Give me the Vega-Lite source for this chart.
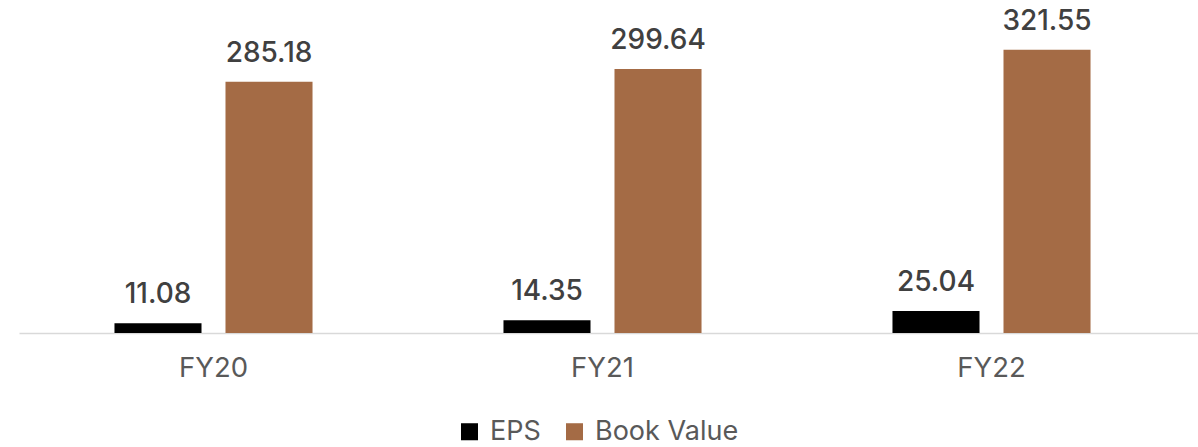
{
  "$schema": "https://vega.github.io/schema/vega-lite/v6.json",
  "width": 1179,
  "height": 333,
  "autosize": {"type": "none"},
  "padding": {"left": 19, "top": 0, "right": 0, "bottom": 114},
  "background": "#ffffff",
  "config": {"view": {"stroke": null}, "font": "Inter"},
  "data": {
    "values": [
      {"year": "FY20", "metric": "EPS", "value": 11.08},
      {"year": "FY20", "metric": "Book Value", "value": 285.18},
      {"year": "FY21", "metric": "EPS", "value": 14.35},
      {"year": "FY21", "metric": "Book Value", "value": 299.64},
      {"year": "FY22", "metric": "EPS", "value": 25.04},
      {"year": "FY22", "metric": "Book Value", "value": 321.55}
    ]
  },
  "encoding": {
    "x": {
      "field": "year",
      "type": "nominal",
      "scale": {"paddingInner": 0, "paddingOuter": 0.01542, "align": 0},
      "axis": {
        "title": null,
        "labelAngle": 0,
        "ticks": false,
        "domainColor": "#d9d9d9",
        "domainWidth": 1.5,
        "labelFontSize": 27.5,
        "labelColor": "#595959",
        "labelPadding": 21,
        "labelFont": "Inter"
      }
    },
    "xOffset": {
      "field": "metric",
      "type": "nominal",
      "sort": ["EPS", "Book Value"],
      "scale": {"paddingInner": 0.216, "paddingOuter": 0.86}
    },
    "y": {
      "field": "value",
      "type": "quantitative",
      "scale": {"domain": [0, 378], "nice": false},
      "axis": null
    }
  },
  "layer": [
    {
      "mark": {"type": "bar"},
      "encoding": {
        "color": {
          "field": "metric",
          "type": "nominal",
          "sort": ["EPS", "Book Value"],
          "scale": {"domain": ["EPS", "Book Value"], "range": ["#000000", "#A46B45"]},
          "legend": {
            "title": null,
            "orient": "none",
            "direction": "horizontal",
            "legendX": 437,
            "legendY": 418,
            "symbolType": "square",
            "symbolSize": 290,
            "symbolStrokeWidth": 0,
            "labelFontSize": 27,
            "labelColor": "#595959",
            "labelFont": "Inter",
            "columnPadding": 20,
            "labelOffset": 7
          }
        }
      }
    },
    {
      "mark": {"type": "text", "baseline": "alphabetic", "dy": -20, "fontSize": 28, "fontWeight": 500, "color": "#404040", "font": "Inter"},
      "encoding": {
        "text": {"field": "value", "type": "quantitative", "format": ".2f"}
      }
    }
  ]
}
